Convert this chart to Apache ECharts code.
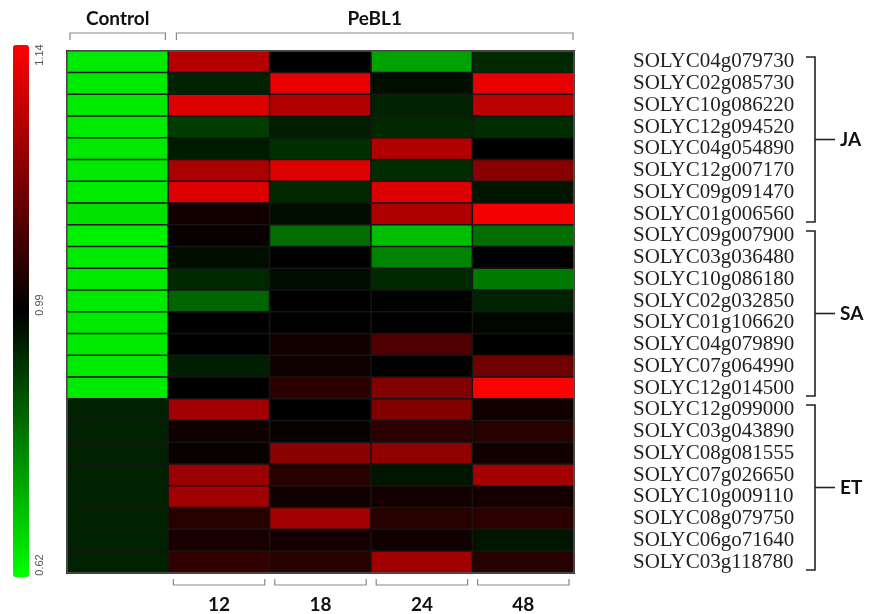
<!DOCTYPE html>
<html><head><meta charset="utf-8">
<script src="https://cdn.jsdelivr.net/npm/echarts@6/dist/echarts.min.js"></script>
<style>html,body{margin:0;padding:0;background:#fff}#c{width:871px;height:614px}</style>
</head><body><div id="c"></div>
<script>
const genes = ['SOLYC04g079730','SOLYC02g085730','SOLYC10g086220','SOLYC12g094520','SOLYC04g054890','SOLYC12g007170','SOLYC09g091470','SOLYC01g006560',
'SOLYC09g007900','SOLYC03g036480','SOLYC10g086180','SOLYC02g032850','SOLYC01g106620','SOLYC04g079890','SOLYC07g064990','SOLYC12g014500',
'SOLYC12g099000','SOLYC03g043890','SOLYC08g081555','SOLYC07g026650','SOLYC10g009110','SOLYC08g079750','SOLYC06go71640','SOLYC03g118780'];
const columns = ['Control','12','18','24','48'];
const groups = ['JA','SA','ET'];
const groupSizes = [8, 8, 8];
const scaleTicks = [0.62, 0.99, 1.14];
// expression values per column (rows in gene order)
const control = [0.65,0.65,0.65,0.65,0.65,0.65,0.65,0.66,0.64,0.65,0.65,0.65,0.65,0.65,0.65,0.65,0.94,0.94,0.94,0.94,0.94,0.94,0.94,0.94];
const h12 = [1.096,0.94,1.12,0.90,0.95,1.09,1.12,1.00,0.995,0.97,0.93,0.845,0.99,0.99,0.947,0.99,1.084,1.00,0.995,1.081,1.084,1.013,1.005,1.02];
const h18 = [0.99,1.125,1.095,0.947,0.92,1.12,0.93,0.97,0.83,0.99,0.97,0.99,0.99,1.00,1.00,1.016,0.99,0.995,1.072,1.013,1.00,1.084,1.002,1.013];
const h24 = [0.757,0.97,0.94,0.93,1.095,0.925,1.12,1.093,0.715,0.80,0.93,0.985,0.99,1.037,0.99,1.066,1.066,1.016,1.075,0.96,1.002,1.013,1.00,1.084];
const h48 = [0.93,1.125,1.10,0.925,0.99,1.07,0.96,1.134,0.83,0.99,0.815,0.94,0.98,0.99,1.055,1.14,1.00,1.013,1.00,1.087,1.002,1.016,0.96,1.013];

const lo = scaleTicks[0], mid = scaleTicks[1], hi = scaleTicks[2];
function toT(v){ let t = v < mid ? 0.5*(v-lo)/(mid-lo) : 0.5 + 0.5*(v-mid)/(hi-mid); return Math.max(0, Math.min(1, t)); }
const cols = [control, h12, h18, h24, h48];
const data = [];
cols.forEach((arr, ci) => arr.forEach((v, ri) => data.push([ci, ri, toT(v), v])));

const chart = echarts.init(document.getElementById('c'));
const boldFont = 'Lato';
chart.setOption({
  animation: false,
  grid: {left: 67, right: 297, top: 51, bottom: 41},
  xAxis: {type: 'category', data: columns, position: 'bottom',
    axisLine: {show: false}, axisTick: {show: false}, splitLine: {show: false},
    axisLabel: {margin: 22, fontSize: 19, fontWeight: 'bold', fontFamily: boldFont, color: '#111',
      formatter: v => v === 'Control' ? '' : v}},
  yAxis: {type: 'category', data: genes, inverse: true, position: 'right',
    axisLine: {show: false}, axisTick: {show: false}, splitLine: {show: false},
    axisLabel: {margin: 59, interval: 0, hideOverlap: false, fontSize: 21, fontFamily: 'Liberation Serif', color: '#222', align: 'left'}},
  visualMap: {type: 'continuous', min: 0, max: 1, dimension: 2, calculable: false, padding: 0,
    orient: 'vertical', left: 13, top: 45, itemWidth: 16, itemHeight: 532, text: null, showLabel: false,
    inRange: {color: ['#00ff00', '#000000', '#ff0000']}, seriesIndex: 0},
  series: [{type: 'heatmap', data: data,
    itemStyle: {borderColor: '#151515', borderWidth: 1.5},
    emphasis: {disabled: true}}]
});

// decorations
const g = [];
const px = (x, y) => chart.convertToPixel({xAxisIndex: 0, yAxisIndex: 0}, [x, y]);
const p0 = px(0, 0), p1 = px(1, 0);
const cw = p1[0] - p0[0];
const rh = px(0, 1)[1] - p0[1];
const gridTop = p0[1] - rh/2, gridBottom = px(0, genes.length-1)[1] + rh/2;
const gridLeft = p0[0] - cw/2, gridRight = px(columns.length-1, 0)[0] + cw/2;
const stroke = {stroke: '#888', lineWidth: 1.2, fill: null};
// outer frame
g.push({type: 'rect', shape: {x: gridLeft, y: gridTop, width: gridRight-gridLeft, height: gridBottom-gridTop}, style: {stroke: '#777', lineWidth: 1, fill: null}, z: 10});
// top brackets
function topBracket(x1, x2, y, label){
  g.push({type: 'polyline', shape: {points: [[x1, y+7], [x1, y], [x2, y], [x2, y+7]]}, style: stroke});
  g.push({type: 'text', x: (x1+x2)/2, y: y-14, style: {text: label, fontSize: 19, fontWeight: 'bold', fontFamily: boldFont, fill: '#111', align: 'center', verticalAlign: 'middle'}});
}
topBracket(gridLeft + 3, gridLeft + cw - 3, 33, columns[0]);
topBracket(gridLeft + cw + 8, gridRight - 1, 33, 'PeBL1');
// bottom brackets
for (let i = 1; i < columns.length; i++) {
  const c = px(i, 0)[0];
  const a = c - cw/2 + 5, b = c + cw/2 - 5, y = gridBottom + 12;
  g.push({type: 'polyline', shape: {points: [[a, y-6], [a, y], [b, y], [b, y-6]]}, style: stroke});
}
// right group brackets
let start = 0;
const bx = 815;
groups.forEach((name, gi) => {
  const n = groupSizes[gi];
  const yA = px(0, start)[1] - rh/2 + 6, yB = px(0, start + n - 1)[1] + rh/2 - 3;
  const ym = (yA + yB)/2;
  g.push({type: 'polyline', shape: {points: [[bx-9, yA], [bx, yA], [bx, yB], [bx-9, yB]]}, style: {stroke: '#222', lineWidth: 1.6, fill: null}});
  g.push({type: 'line', shape: {x1: bx, y1: ym, x2: bx + 20, y2: ym}, style: {stroke: '#222', lineWidth: 1.6}});
  g.push({type: 'text', x: bx + 25, y: ym, style: {text: name, fontSize: 19, fontWeight: 'bold', fontFamily: boldFont, fill: '#111', align: 'left', verticalAlign: 'middle'}});
  start += n;
});
// colorbar tick labels
const barTop = 45, barH = 532;
const tickPos = [barTop + barH - 12, barTop + barH/2 - 6, barTop + 10];
scaleTicks.forEach((t, i) => {
  g.push({type: 'text', x: 40, y: tickPos[i], rotation: Math.PI/2, z: 20,
    style: {text: t.toFixed(2), fontSize: 11, fontFamily: 'Liberation Sans', fill: '#555', align: 'center', verticalAlign: 'middle'}});
});
chart.setOption({graphic: g});
</script>
</body></html>
